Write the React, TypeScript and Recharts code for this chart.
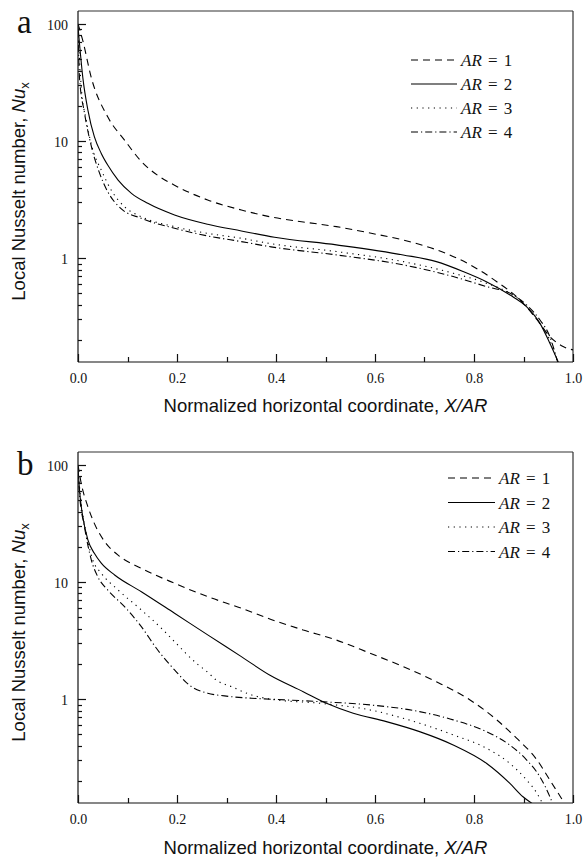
import React from 'react';
import { LineChart, Line, XAxis, YAxis, Legend, Customized, Label, ReferenceLine } from 'recharts';

// ---------- shared ----------
const seriesNames = ['AR = 1', 'AR = 2', 'AR = 3', 'AR = 4'];
const xTicks = [0, 0.1, 0.2, 0.3, 0.4, 0.5, 0.6, 0.7, 0.8, 0.9, 1.0];
const yTicks = [
  0.2, 0.3, 0.4, 0.5, 0.6, 0.7, 0.8, 0.9,
  1, 2, 3, 4, 5, 6, 7, 8, 9,
  10, 20, 30, 40, 50, 60, 70, 80, 90,
  100,
];
const yDomain = [0.13, 129];

// ---------- panel a ----------
const aX1 = [0, 0.004, 0.0097, 0.0267, 0.06, 0.094, 0.128, 0.161, 0.195, 0.262, 0.33, 0.39, 0.455, 0.522, 0.59, 0.657, 0.724, 0.792, 0.846, 0.893, 0.927, 0.953, 0.98, 1.0];
const aY1 = [100, 88, 72, 35, 16.1, 10.2, 6.7, 5.1, 4.2, 3.14, 2.58, 2.25, 2.04, 1.86, 1.64, 1.43, 1.18, 0.88, 0.63, 0.44, 0.3, 0.215, 0.176, 0.165];
const aX2 = [0, 0.003, 0.0097, 0.02, 0.033, 0.047, 0.06, 0.081, 0.108, 0.141, 0.195, 0.262, 0.33, 0.397, 0.522, 0.657, 0.724, 0.778, 0.825, 0.872, 0.906, 0.933, 0.953, 0.972];
const aY2 = [95, 68, 35, 18.4, 10.9, 7.85, 6.24, 4.65, 3.58, 2.94, 2.34, 1.95, 1.71, 1.51, 1.3, 1.067, 0.935, 0.77, 0.63, 0.487, 0.386, 0.279, 0.189, 0.125];
const aX3 = [0, 0.0065, 0.0166, 0.03, 0.047, 0.067, 0.094, 0.128, 0.195, 0.262, 0.33, 0.39, 0.522, 0.657, 0.758, 0.825, 0.872, 0.9, 0.927, 0.953, 0.97];
const aY3 = [90, 29, 15.1, 8.4, 5.66, 3.82, 2.75, 2.26, 1.86, 1.63, 1.48, 1.33, 1.14, 0.935, 0.745, 0.612, 0.503, 0.413, 0.298, 0.2, 0.125];
const aX4 = [0, 0.003, 0.013, 0.027, 0.043, 0.06, 0.087, 0.128, 0.195, 0.262, 0.33, 0.39, 0.522, 0.657, 0.758, 0.825, 0.879, 0.906, 0.933, 0.953, 0.97];
const aY4 = [88, 35, 17.5, 9.0, 5.4, 3.7, 2.65, 2.19, 1.8, 1.55, 1.386, 1.25, 1.067, 0.877, 0.697, 0.573, 0.487, 0.4, 0.298, 0.215, 0.125];

// ---------- panel b ----------
const bX1 = [0, 0.0065, 0.02, 0.033, 0.054, 0.081, 0.128, 0.195, 0.262, 0.33, 0.39, 0.455, 0.522, 0.59, 0.657, 0.724, 0.792, 0.846, 0.886, 0.927, 0.953, 0.985];
const bY1 = [100, 69.7, 44, 31.7, 22.1, 17, 13.1, 9.77, 7.51, 5.98, 4.8, 3.9, 3.2, 2.47, 1.9, 1.41, 0.986, 0.666, 0.465, 0.304, 0.205, 0.125];
const bX2 = [0, 0.003, 0.0097, 0.02, 0.033, 0.047, 0.074, 0.128, 0.195, 0.262, 0.33, 0.387, 0.455, 0.502, 0.556, 0.623, 0.69, 0.758, 0.825, 0.872, 0.899, 0.922];
const bY2 = [95, 61, 36.1, 22.9, 17.6, 14.5, 11.5, 8.28, 5.42, 3.54, 2.31, 1.61, 1.16, 0.924, 0.76, 0.644, 0.529, 0.407, 0.284, 0.192, 0.147, 0.125];
const bX3 = [0, 0.0065, 0.0166, 0.03, 0.047, 0.081, 0.128, 0.172, 0.195, 0.239, 0.262, 0.279, 0.31, 0.35, 0.39, 0.488, 0.59, 0.69, 0.758, 0.825, 0.872, 0.906, 0.927, 0.94];
const bY3 = [90, 47, 26, 15.4, 11.9, 8.56, 5.78, 3.9, 3.1, 2.03, 1.7, 1.46, 1.28, 1.09, 1.0, 0.924, 0.81, 0.624, 0.496, 0.382, 0.284, 0.205, 0.158, 0.125];
const bX4 = [0, 0.003, 0.013, 0.027, 0.04, 0.06, 0.094, 0.128, 0.161, 0.195, 0.229, 0.262, 0.296, 0.35, 0.39, 0.488, 0.59, 0.69, 0.758, 0.825, 0.872, 0.906, 0.933, 0.953, 0.96];
const bY4 = [88, 57, 29.7, 15.4, 11.1, 8.56, 6.17, 4.16, 2.63, 1.78, 1.28, 1.125, 1.067, 1.02, 1.0, 0.954, 0.894, 0.784, 0.666, 0.529, 0.407, 0.304, 0.218, 0.148, 0.125];

const zip = (xs: number[], ys: number[]) => xs.map((x, i) => ({ x, y: ys[i] }));

const panelA = [zip(aX1, aY1), zip(aX2, aY2), zip(aX3, aY3), zip(aX4, aY4)];
const panelB = [zip(bX1, bY1), zip(bX2, bY2), zip(bX3, bY3), zip(bX4, bY4)];

const DASHES = ['7 5', undefined, '1.2 4.5', '7 3 1.2 3'];
const SERIF = 'Liberation Serif';
const SANS = 'Liberation Sans';
const AXIS = '#111';

const YTick = (props: any) => {
  const { x, y, payload } = props;
  const v = payload.value;
  const lg = Math.log10(v);
  const major = Math.abs(lg - Math.round(lg)) < 1e-6;
  const px = Math.round(Number(x));
  const py = Math.round(Number(y)) + 0.5;
  return (
    <g>
      <path d={`M${px},${py}H${px + (major ? 8 : 4)}`} stroke={AXIS} strokeWidth={1.2} fill="none" />
      {major && (
        <text x={px - 10} y={py + 5} textAnchor="end" fontFamily={SERIF} fontSize={14} fill="#111" stroke="none">
          {String(v)}
        </text>
      )}
    </g>
  );
};

const XTick = (props: any) => {
  const { x, y, payload } = props;
  const v = payload.value;
  const major = Math.round(v * 10) % 2 === 0;
  const px = Math.round(Number(x)) + 0.5;
  const py = Math.round(Number(y));
  return (
    <g>
      <path d={`M${px},${py}V${py - (major ? 8 : 5)}`} stroke={AXIS} strokeWidth={1.2} fill="none" />
      {major && (
        <text x={px} y={py + 21} textAnchor="middle" fontFamily={SERIF} fontSize={14} fill="#111" stroke="none">
          {v.toFixed(1)}
        </text>
      )}
    </g>
  );
};

const XTitle = (dy: number) => (props: any) => {
  const vb = props.viewBox;
  return (
    <text x={vb.x + vb.width / 2} y={vb.y + dy} textAnchor="middle" fontFamily={SANS} fontSize={18.5} fill="#111">
      Normalized horizontal coordinate, <tspan fontStyle="italic">X/AR</tspan>
    </text>
  );
};

const YTitle = (props: any) => {
  const vb = props.viewBox;
  const cx = 25;
  const cy = vb.y + vb.height / 2 + 5;
  return (
    <text x={cx} y={cy} transform={`rotate(-90, ${cx}, ${cy})`} textAnchor="middle" fontFamily={SANS} fontSize={18.5} fill="#111">
      Local Nusselt number, <tspan fontStyle="italic">Nu</tspan>
      <tspan fontSize={13} dy={4}>x</tspan>
    </text>
  );
};

const makeLegend = (lineW: number, rowH: number) => () => (
  <svg width={150} height={rowH * 4 + 4} style={{ display: 'block' }}>
    {seriesNames.map((name, i) => {
      const cy = 12 + i * rowH;
      const parts = name.split(' ');
      return (
        <g key={name}>
          <line x1={0} x2={lineW} y1={cy} y2={cy} stroke="#000" strokeWidth={1.1} strokeDasharray={DASHES[i]} />
          <text x={lineW + 4} y={cy + 6} fontFamily={SERIF} fontSize={17} fill="#111" wordSpacing={2}>
            <tspan fontStyle="italic">{parts[0]}</tspan> {parts.slice(1).join(' ')}
          </text>
        </g>
      );
    })}
  </svg>
);

type PanelProps = {
  series: { x: number; y: number }[][];
  height: number;
  top: number;
  xAxisH: number;
  titleDy: number;
  letter: string;
  letterY: number;
  legendLeft: number;
  legendTop: number;
  legendLineW: number;
  legendRowH: number;
};

const Panel = (p: PanelProps) => (
  <LineChart width={584} height={p.height} margin={{ top: p.top, right: 11, bottom: 0, left: 0 }}>
    <ReferenceLine y={yDomain[1]} stroke="#333" strokeWidth={1.2} />
    <ReferenceLine x={1} stroke="#333" strokeWidth={1.2} />
    {p.series.map((d, i) => (
      <Line
        key={seriesNames[i]}
        name={seriesNames[i]}
        data={d}
        dataKey="y"
        type="monotone"
        stroke="#000"
        strokeWidth={1.1}
        strokeDasharray={DASHES[i]}
        dot={false}
        activeDot={false}
        isAnimationActive={false}
      />
    ))}
    <XAxis
      type="number"
      dataKey="x"
      domain={[0, 1]}
      ticks={xTicks}
      interval={0}
      height={p.xAxisH}
      tickSize={0}
      tickMargin={0}
      tickLine={false}
      tick={<XTick />}
      axisLine={{ stroke: AXIS, strokeWidth: 1.2 }}
      allowDataOverflow
    >
      <Label content={XTitle(p.titleDy)} />
    </XAxis>
    <YAxis
      type="number"
      dataKey="y"
      scale="log"
      domain={yDomain}
      ticks={yTicks}
      interval={0}
      width={78}
      tickSize={0}
      tickMargin={0}
      tickLine={false}
      tick={<YTick />}
      axisLine={{ stroke: AXIS, strokeWidth: 1.2 }}
      allowDataOverflow
    >
      <Label content={YTitle} />
    </YAxis>
    <Legend
      layout="vertical"
      align="center"
      verticalAlign="middle"
      content={makeLegend(p.legendLineW, p.legendRowH)}
      wrapperStyle={{ left: p.legendLeft, top: p.legendTop, width: 150 }}
    />
    <Customized
      component={() => (
        <text x={17} y={p.letterY} fontFamily={SERIF} fontSize={33} fill="#111">
          {p.letter}
        </text>
      )}
    />
  </LineChart>
);

export default function App() {
  return (
    <div style={{ position: 'absolute', left: 0, top: 0, width: 584, height: 858, background: '#fff' }}>
      <Panel
        series={panelA}
        height={430}
        top={11}
        xAxisH={68}
        titleDy={50}
        letter="a"
        letterY={33}
        legendLeft={411}
        legendTop={48}
        legendLineW={46}
        legendRowH={24}
      />
      <Panel
        series={panelB}
        height={428}
        top={22}
        xAxisH={55}
        titleDy={51}
        letter="b"
        letterY={45}
        legendLeft={448}
        legendTop={36}
        legendLineW={47}
        legendRowH={24.5}
      />
    </div>
  );
}
